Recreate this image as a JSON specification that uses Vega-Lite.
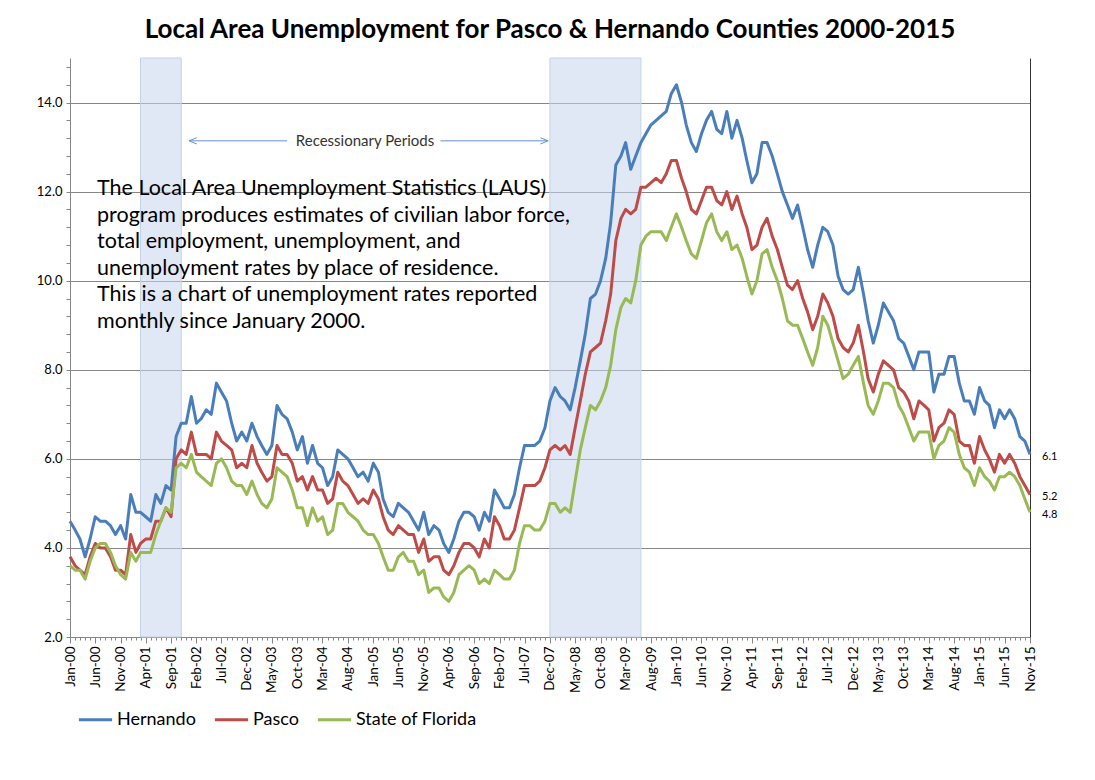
{
  "$schema": "https://vega.github.io/schema/vega-lite/v6.json",
  "width": 960,
  "height": 579,
  "autosize": {"type": "none"},
  "padding": {"left": 70, "top": 58, "right": 65, "bottom": 143},
  "title": {
    "text": "Local Area Unemployment for Pasco & Hernando Counties 2000-2015",
    "fontSize": 26,
    "fontWeight": "bold",
    "color": "#000000",
    "offset": 15
  },
  "config": {
    "font": "Lato",
    "view": {"stroke": null}
  },
  "resolve": {"axis": {"y": "independent"}},
  "datasets": {
    "rates": [
      {"m":"2000-01-01","H":4.6,"P":3.8,"F":3.6},{"m":"2000-02-01","H":4.4,"P":3.6,"F":3.5},{"m":"2000-03-01","H":4.2,"P":3.5,"F":3.5},
      {"m":"2000-04-01","H":3.8,"P":3.4,"F":3.3},{"m":"2000-05-01","H":4.2,"P":3.8,"F":3.7},{"m":"2000-06-01","H":4.7,"P":4.1,"F":4.0},
      {"m":"2000-07-01","H":4.6,"P":4.0,"F":4.1},{"m":"2000-08-01","H":4.6,"P":4.0,"F":4.1},{"m":"2000-09-01","H":4.5,"P":3.8,"F":3.9},
      {"m":"2000-10-01","H":4.3,"P":3.5,"F":3.6},{"m":"2000-11-01","H":4.5,"P":3.5,"F":3.4},{"m":"2000-12-01","H":4.2,"P":3.4,"F":3.3},
      {"m":"2001-01-01","H":5.2,"P":4.3,"F":3.9},{"m":"2001-02-01","H":4.8,"P":3.9,"F":3.7},{"m":"2001-03-01","H":4.8,"P":4.1,"F":3.9},
      {"m":"2001-04-01","H":4.7,"P":4.2,"F":3.9},{"m":"2001-05-01","H":4.6,"P":4.2,"F":3.9},{"m":"2001-06-01","H":5.2,"P":4.6,"F":4.3},
      {"m":"2001-07-01","H":5.0,"P":4.6,"F":4.6},{"m":"2001-08-01","H":5.4,"P":4.9,"F":4.9},{"m":"2001-09-01","H":5.3,"P":4.7,"F":4.8},
      {"m":"2001-10-01","H":6.5,"P":6.0,"F":5.8},{"m":"2001-11-01","H":6.8,"P":6.2,"F":5.9},{"m":"2001-12-01","H":6.8,"P":6.1,"F":5.8},
      {"m":"2002-01-01","H":7.4,"P":6.6,"F":6.1},{"m":"2002-02-01","H":6.8,"P":6.1,"F":5.7},{"m":"2002-03-01","H":6.9,"P":6.1,"F":5.6},
      {"m":"2002-04-01","H":7.1,"P":6.1,"F":5.5},{"m":"2002-05-01","H":7.0,"P":6.0,"F":5.4},{"m":"2002-06-01","H":7.7,"P":6.6,"F":5.9},
      {"m":"2002-07-01","H":7.5,"P":6.4,"F":6.0},{"m":"2002-08-01","H":7.3,"P":6.3,"F":5.8},{"m":"2002-09-01","H":6.8,"P":6.2,"F":5.5},
      {"m":"2002-10-01","H":6.4,"P":5.8,"F":5.4},{"m":"2002-11-01","H":6.6,"P":5.9,"F":5.4},{"m":"2002-12-01","H":6.4,"P":5.8,"F":5.2},
      {"m":"2003-01-01","H":6.8,"P":6.3,"F":5.5},{"m":"2003-02-01","H":6.5,"P":5.9,"F":5.2},{"m":"2003-03-01","H":6.3,"P":5.7,"F":5.0},
      {"m":"2003-04-01","H":6.1,"P":5.5,"F":4.9},{"m":"2003-05-01","H":6.3,"P":5.6,"F":5.1},{"m":"2003-06-01","H":7.2,"P":6.3,"F":5.8},
      {"m":"2003-07-01","H":7.0,"P":6.1,"F":5.7},{"m":"2003-08-01","H":6.9,"P":6.1,"F":5.6},{"m":"2003-09-01","H":6.6,"P":5.9,"F":5.3},
      {"m":"2003-10-01","H":6.2,"P":5.5,"F":4.9},{"m":"2003-11-01","H":6.5,"P":5.6,"F":4.9},{"m":"2003-12-01","H":5.9,"P":5.3,"F":4.5},
      {"m":"2004-01-01","H":6.3,"P":5.6,"F":4.9},{"m":"2004-02-01","H":5.9,"P":5.3,"F":4.6},{"m":"2004-03-01","H":5.8,"P":5.3,"F":4.7},
      {"m":"2004-04-01","H":5.4,"P":5.0,"F":4.3},{"m":"2004-05-01","H":5.6,"P":5.1,"F":4.4},{"m":"2004-06-01","H":6.2,"P":5.7,"F":5.0},
      {"m":"2004-07-01","H":6.1,"P":5.5,"F":5.0},{"m":"2004-08-01","H":6.0,"P":5.4,"F":4.8},{"m":"2004-09-01","H":5.8,"P":5.2,"F":4.7},
      {"m":"2004-10-01","H":5.6,"P":5.0,"F":4.6},{"m":"2004-11-01","H":5.7,"P":5.1,"F":4.4},{"m":"2004-12-01","H":5.5,"P":5.0,"F":4.3},
      {"m":"2005-01-01","H":5.9,"P":5.3,"F":4.3},{"m":"2005-02-01","H":5.7,"P":5.1,"F":4.1},{"m":"2005-03-01","H":5.1,"P":4.7,"F":3.8},
      {"m":"2005-04-01","H":4.8,"P":4.4,"F":3.5},{"m":"2005-05-01","H":4.7,"P":4.3,"F":3.5},{"m":"2005-06-01","H":5.0,"P":4.5,"F":3.8},
      {"m":"2005-07-01","H":4.9,"P":4.4,"F":3.9},{"m":"2005-08-01","H":4.8,"P":4.3,"F":3.7},{"m":"2005-09-01","H":4.6,"P":4.3,"F":3.7},
      {"m":"2005-10-01","H":4.4,"P":3.9,"F":3.4},{"m":"2005-11-01","H":4.8,"P":4.2,"F":3.5},{"m":"2005-12-01","H":4.3,"P":3.7,"F":3.0},
      {"m":"2006-01-01","H":4.5,"P":3.8,"F":3.1},{"m":"2006-02-01","H":4.4,"P":3.8,"F":3.1},{"m":"2006-03-01","H":4.1,"P":3.5,"F":2.9},
      {"m":"2006-04-01","H":3.9,"P":3.4,"F":2.8},{"m":"2006-05-01","H":4.2,"P":3.6,"F":3.0},{"m":"2006-06-01","H":4.6,"P":3.9,"F":3.4},
      {"m":"2006-07-01","H":4.8,"P":4.1,"F":3.5},{"m":"2006-08-01","H":4.8,"P":4.1,"F":3.6},{"m":"2006-09-01","H":4.7,"P":4.0,"F":3.5},
      {"m":"2006-10-01","H":4.4,"P":3.8,"F":3.2},{"m":"2006-11-01","H":4.8,"P":4.2,"F":3.3},{"m":"2006-12-01","H":4.6,"P":4.0,"F":3.2},
      {"m":"2007-01-01","H":5.3,"P":4.7,"F":3.5},{"m":"2007-02-01","H":5.1,"P":4.5,"F":3.4},{"m":"2007-03-01","H":4.9,"P":4.2,"F":3.3},
      {"m":"2007-04-01","H":4.9,"P":4.2,"F":3.3},{"m":"2007-05-01","H":5.2,"P":4.4,"F":3.5},{"m":"2007-06-01","H":5.8,"P":4.9,"F":4.1},
      {"m":"2007-07-01","H":6.3,"P":5.4,"F":4.5},{"m":"2007-08-01","H":6.3,"P":5.4,"F":4.5},{"m":"2007-09-01","H":6.3,"P":5.4,"F":4.4},
      {"m":"2007-10-01","H":6.4,"P":5.5,"F":4.4},{"m":"2007-11-01","H":6.7,"P":5.8,"F":4.6},{"m":"2007-12-01","H":7.3,"P":6.2,"F":5.0},
      {"m":"2008-01-01","H":7.6,"P":6.3,"F":5.0},{"m":"2008-02-01","H":7.4,"P":6.2,"F":4.8},{"m":"2008-03-01","H":7.3,"P":6.3,"F":4.9},
      {"m":"2008-04-01","H":7.1,"P":6.1,"F":4.8},{"m":"2008-05-01","H":7.6,"P":6.7,"F":5.5},{"m":"2008-06-01","H":8.2,"P":7.3,"F":6.2},
      {"m":"2008-07-01","H":8.8,"P":7.9,"F":6.7},{"m":"2008-08-01","H":9.6,"P":8.4,"F":7.2},{"m":"2008-09-01","H":9.7,"P":8.5,"F":7.1},
      {"m":"2008-10-01","H":10.0,"P":8.6,"F":7.3},{"m":"2008-11-01","H":10.5,"P":9.1,"F":7.6},{"m":"2008-12-01","H":11.3,"P":9.7,"F":8.1},
      {"m":"2009-01-01","H":12.6,"P":10.9,"F":8.9},{"m":"2009-02-01","H":12.8,"P":11.4,"F":9.4},{"m":"2009-03-01","H":13.1,"P":11.6,"F":9.6},
      {"m":"2009-04-01","H":12.5,"P":11.5,"F":9.5},{"m":"2009-05-01","H":12.8,"P":11.6,"F":10.0},{"m":"2009-06-01","H":13.1,"P":12.1,"F":10.8},
      {"m":"2009-07-01","H":13.3,"P":12.1,"F":11.0},{"m":"2009-08-01","H":13.5,"P":12.2,"F":11.1},{"m":"2009-09-01","H":13.6,"P":12.3,"F":11.1},
      {"m":"2009-10-01","H":13.7,"P":12.2,"F":11.1},{"m":"2009-11-01","H":13.8,"P":12.4,"F":10.9},{"m":"2009-12-01","H":14.2,"P":12.7,"F":11.2},
      {"m":"2010-01-01","H":14.4,"P":12.7,"F":11.5},{"m":"2010-02-01","H":14.0,"P":12.3,"F":11.2},{"m":"2010-03-01","H":13.5,"P":12.0,"F":10.9},
      {"m":"2010-04-01","H":13.1,"P":11.6,"F":10.6},{"m":"2010-05-01","H":12.9,"P":11.5,"F":10.5},{"m":"2010-06-01","H":13.3,"P":11.8,"F":10.9},
      {"m":"2010-07-01","H":13.6,"P":12.1,"F":11.3},{"m":"2010-08-01","H":13.8,"P":12.1,"F":11.5},{"m":"2010-09-01","H":13.4,"P":11.8,"F":11.1},
      {"m":"2010-10-01","H":13.3,"P":11.7,"F":10.9},{"m":"2010-11-01","H":13.8,"P":12.0,"F":11.1},{"m":"2010-12-01","H":13.2,"P":11.6,"F":10.7},
      {"m":"2011-01-01","H":13.6,"P":11.9,"F":10.8},{"m":"2011-02-01","H":13.2,"P":11.5,"F":10.5},{"m":"2011-03-01","H":12.7,"P":11.2,"F":10.1},
      {"m":"2011-04-01","H":12.2,"P":10.7,"F":9.7},{"m":"2011-05-01","H":12.4,"P":10.8,"F":10.0},{"m":"2011-06-01","H":13.1,"P":11.2,"F":10.6},
      {"m":"2011-07-01","H":13.1,"P":11.4,"F":10.7},{"m":"2011-08-01","H":12.8,"P":11.0,"F":10.3},{"m":"2011-09-01","H":12.4,"P":10.7,"F":10.0},
      {"m":"2011-10-01","H":12.0,"P":10.3,"F":9.6},{"m":"2011-11-01","H":11.7,"P":9.9,"F":9.1},{"m":"2011-12-01","H":11.4,"P":9.8,"F":9.0},
      {"m":"2012-01-01","H":11.7,"P":10.0,"F":9.0},{"m":"2012-02-01","H":11.2,"P":9.6,"F":8.7},{"m":"2012-03-01","H":10.7,"P":9.3,"F":8.4},
      {"m":"2012-04-01","H":10.3,"P":8.9,"F":8.1},{"m":"2012-05-01","H":10.8,"P":9.2,"F":8.5},{"m":"2012-06-01","H":11.2,"P":9.7,"F":9.2},
      {"m":"2012-07-01","H":11.1,"P":9.5,"F":9.0},{"m":"2012-08-01","H":10.8,"P":9.2,"F":8.6},{"m":"2012-09-01","H":10.1,"P":8.7,"F":8.2},
      {"m":"2012-10-01","H":9.8,"P":8.5,"F":7.8},{"m":"2012-11-01","H":9.7,"P":8.4,"F":7.9},{"m":"2012-12-01","H":9.8,"P":8.6,"F":8.1},
      {"m":"2013-01-01","H":10.3,"P":9.0,"F":8.3},{"m":"2013-02-01","H":9.7,"P":8.4,"F":7.7},{"m":"2013-03-01","H":9.1,"P":7.8,"F":7.2},
      {"m":"2013-04-01","H":8.6,"P":7.5,"F":7.0},{"m":"2013-05-01","H":9.0,"P":7.9,"F":7.3},{"m":"2013-06-01","H":9.5,"P":8.2,"F":7.7},
      {"m":"2013-07-01","H":9.3,"P":8.1,"F":7.7},{"m":"2013-08-01","H":9.1,"P":8.0,"F":7.6},{"m":"2013-09-01","H":8.7,"P":7.6,"F":7.2},
      {"m":"2013-10-01","H":8.6,"P":7.5,"F":7.0},{"m":"2013-11-01","H":8.3,"P":7.3,"F":6.7},{"m":"2013-12-01","H":8.0,"P":6.9,"F":6.4},
      {"m":"2014-01-01","H":8.4,"P":7.3,"F":6.6},{"m":"2014-02-01","H":8.4,"P":7.2,"F":6.6},{"m":"2014-03-01","H":8.4,"P":7.1,"F":6.6},
      {"m":"2014-04-01","H":7.5,"P":6.4,"F":6.0},{"m":"2014-05-01","H":7.9,"P":6.7,"F":6.3},{"m":"2014-06-01","H":7.9,"P":6.8,"F":6.4},
      {"m":"2014-07-01","H":8.3,"P":7.1,"F":6.7},{"m":"2014-08-01","H":8.3,"P":7.0,"F":6.6},{"m":"2014-09-01","H":7.7,"P":6.4,"F":6.1},
      {"m":"2014-10-01","H":7.3,"P":6.3,"F":5.8},{"m":"2014-11-01","H":7.3,"P":6.3,"F":5.7},{"m":"2014-12-01","H":7.0,"P":5.9,"F":5.4},
      {"m":"2015-01-01","H":7.6,"P":6.5,"F":5.8},{"m":"2015-02-01","H":7.3,"P":6.2,"F":5.6},{"m":"2015-03-01","H":7.2,"P":6.0,"F":5.5},
      {"m":"2015-04-01","H":6.7,"P":5.7,"F":5.3},{"m":"2015-05-01","H":7.1,"P":6.1,"F":5.6},{"m":"2015-06-01","H":6.9,"P":5.9,"F":5.6},
      {"m":"2015-07-01","H":7.1,"P":6.1,"F":5.7},{"m":"2015-08-01","H":6.9,"P":5.9,"F":5.6},{"m":"2015-09-01","H":6.5,"P":5.6,"F":5.4},
      {"m":"2015-10-01","H":6.4,"P":5.4,"F":5.1},{"m":"2015-11-01","H":6.1,"P":5.2,"F":4.8}
    ],
    "recessions": [
      {"start": "2001-03-01", "end": "2001-11-01"},
      {"start": "2007-12-01", "end": "2009-06-01"}
    ]
  },
  "layer": [
    {
      "data": {"name": "recessions"},
      "mark": {"type": "rect", "fill": "#c6d6ec", "fillOpacity": 0.55, "stroke": "#c3d2e8", "strokeWidth": 1},
      "encoding": {
        "x": {"field": "start", "type": "temporal", "scale": {"type": "utc"}, "title": null},
        "x2": {"field": "end"}
      }
    },
    {
      "data": {"values": [{}]},
      "mark": {"type": "rule", "color": "#6a8fc6", "strokeWidth": 1},
      "encoding": {
        "x": {"datum": {"year": 2001, "month": 12, "date": 24, "utc": true}, "type": "temporal", "scale": {"type": "utc"}, "title": null},
        "x2": {"datum": {"year": 2003, "month": 8, "date": 1, "utc": true}},
        "y": {"datum": 13.14, "type": "quantitative", "title": null, "axis": null}
      }
    },
    {
      "data": {"values": [{}]},
      "mark": {"type": "rule", "color": "#6a8fc6", "strokeWidth": 1},
      "encoding": {
        "x": {"datum": {"year": 2006, "month": 2, "date": 10, "utc": true}, "type": "temporal", "scale": {"type": "utc"}, "title": null},
        "x2": {"datum": {"year": 2007, "month": 11, "date": 13, "utc": true}},
        "y": {"datum": 13.14, "type": "quantitative", "title": null, "axis": null}
      }
    },
    {
      "data": {"values": [{}]},
      "mark": {"type": "point", "shape": "M1,-0.8L-1,0L1,0.8", "filled": false, "stroke": "#6a8fc6", "strokeWidth": 1, "size": 60, "opacity": 1},
      "encoding": {
        "x": {"datum": {"year": 2002, "month": 1, "date": 10, "utc": true}, "type": "temporal", "scale": {"type": "utc"}, "title": null},
        "y": {"datum": 13.14, "type": "quantitative", "title": null, "axis": null}
      }
    },
    {
      "data": {"values": [{}]},
      "mark": {"type": "point", "shape": "M-1,-0.8L1,0L-1,0.8", "filled": false, "stroke": "#6a8fc6", "strokeWidth": 1, "size": 60, "opacity": 1},
      "encoding": {
        "x": {"datum": {"year": 2007, "month": 10, "date": 28, "utc": true}, "type": "temporal", "scale": {"type": "utc"}, "title": null},
        "y": {"datum": 13.14, "type": "quantitative", "title": null, "axis": null}
      }
    },
    {
      "data": {"values": [{}]},
      "mark": {"type": "text", "fontSize": 15, "color": "#333333", "align": "center", "baseline": "middle"},
      "encoding": {
        "x": {"datum": {"year": 2004, "month": 11, "date": 12, "utc": true}, "type": "temporal", "scale": {"type": "utc"}, "title": null},
        "y": {"datum": 13.14, "type": "quantitative", "title": null, "axis": null},
        "text": {"value": "Recessionary Periods"}
      }
    },
    {
      "data": {"values": [{}]},
      "mark": {"type": "text", "fontSize": 21.5, "color": "#000000", "align": "left", "baseline": "top", "lineBreak": "\n", "lineHeight": 26.5},
      "encoding": {
        "x": {"datum": {"year": 2000, "month": 6, "date": 12, "utc": true}, "type": "temporal", "scale": {"type": "utc"}, "title": null},
        "y": {"datum": 12.3, "type": "quantitative", "title": null, "axis": null},
        "text": {"value": "The Local Area Unemployment Statistics (LAUS)\nprogram produces estimates of civilian labor force,\ntotal employment, unemployment, and\nunemployment rates by place of residence.\nThis is a chart of unemployment rates reported\nmonthly since January 2000."}
      }
    },
    {
      "data": {"name": "rates"},
      "transform": [{"fold": ["H", "P", "F"], "as": ["key", "value"]}],
      "mark": {"type": "line", "strokeWidth": 3, "strokeJoin": "round"},
      "encoding": {
        "x": {
          "field": "m",
          "type": "temporal",
          "title": null,
          "scale": {
            "type": "utc",
            "nice": false,
            "domain": [
              {"year": 2000, "month": 1, "date": 1, "utc": true},
              {"year": 2015, "month": 11, "date": 1, "utc": true}
            ]
          },
          "axis": {
            "tickCount": {"interval": "month", "step": 1},
            "labelExpr": "((utcyear(datum.value) - 2000) * 12 + utcmonth(datum.value)) % 5 === 0 ? utcFormat(datum.value, '%b-%y') : ''",
            "labelAngle": -90,
            "labelOverlap": false,
            "labelFlush": false,
            "labelBound": false,
            "grid": false,
            "tickSize": {"condition": {"test": "((utcyear(datum.value) - 2000) * 12 + utcmonth(datum.value)) % 5 === 0", "value": 6}, "value": 3},
            "tickColor": "#868686",
            "domainColor": "#868686",
            "labelFontSize": 13.5,
            "labelColor": "#000000",
            "labelPadding": 3
          }
        },
        "y": {
          "field": "value",
          "type": "quantitative",
          "title": null,
          "scale": {"domain": [2, 15], "nice": false, "zero": false},
          "axis": {
            "orient": "left",
            "values": [2, 2.4, 2.8, 3.2, 3.6, 4, 4.4, 4.8, 5.2, 5.6, 6, 6.4, 6.8, 7.2, 7.6, 8, 8.4, 8.8, 9.2, 9.6, 10, 10.4, 10.8, 11.2, 11.6, 12, 12.4, 12.8, 13.2, 13.6, 14, 14.4, 14.8],
            "labelExpr": "datum.value % 2 === 0 ? format(datum.value, '.1f') : ''",
            "gridOpacity": {"condition": {"test": "datum.value % 2 === 0", "value": 1}, "value": 0},
            "grid": true,
            "gridColor": "#868686",
            "gridWidth": 1,
            "tickSize": 4,
            "tickColor": "#868686",
            "domainColor": "#868686",
            "labelFontSize": 13,
            "labelColor": "#000000",
            "labelPadding": 4
          }
        },
        "color": {
          "field": "key",
          "type": "nominal",
          "scale": {"domain": ["H", "P", "F"], "range": ["#4a7ebb", "#be4b48", "#98b954"]},
          "legend": {
            "orient": "none",
            "legendX": 7,
            "legendY": 643,
            "direction": "horizontal",
            "title": null,
            "labelExpr": "datum.label === 'H' ? 'Hernando' : datum.label === 'P' ? 'Pasco' : 'State of Florida'",
            "labelFontSize": 18,
            "labelColor": "#000000",
            "symbolType": "stroke",
            "symbolSize": 1100,
            "symbolStrokeWidth": 3,
            "labelOffset": 3,
            "columnPadding": 12
          }
        }
      }
    },
    {
      "data": {"name": "rates"},
      "transform": [
        {"fold": ["H", "P", "F"], "as": ["key", "value"]},
        {"filter": "datum.m == '2015-11-01' || time(datum.m) === utc(2015, 10, 1)"}
      ],
      "mark": {"type": "text", "align": "left", "baseline": "middle", "dx": 12, "dy": 3, "fontSize": 11, "color": "#000000"},
      "encoding": {
        "x": {"field": "m", "type": "temporal", "scale": {"type": "utc"}, "title": null},
        "y": {
          "field": "value",
          "type": "quantitative",
          "title": null,
          "axis": {"orient": "right", "labels": false, "ticks": false, "grid": false, "domainColor": "#333333", "title": null}
        },
        "text": {"field": "value", "type": "quantitative", "format": ".1f"}
      }
    }
  ]
}
